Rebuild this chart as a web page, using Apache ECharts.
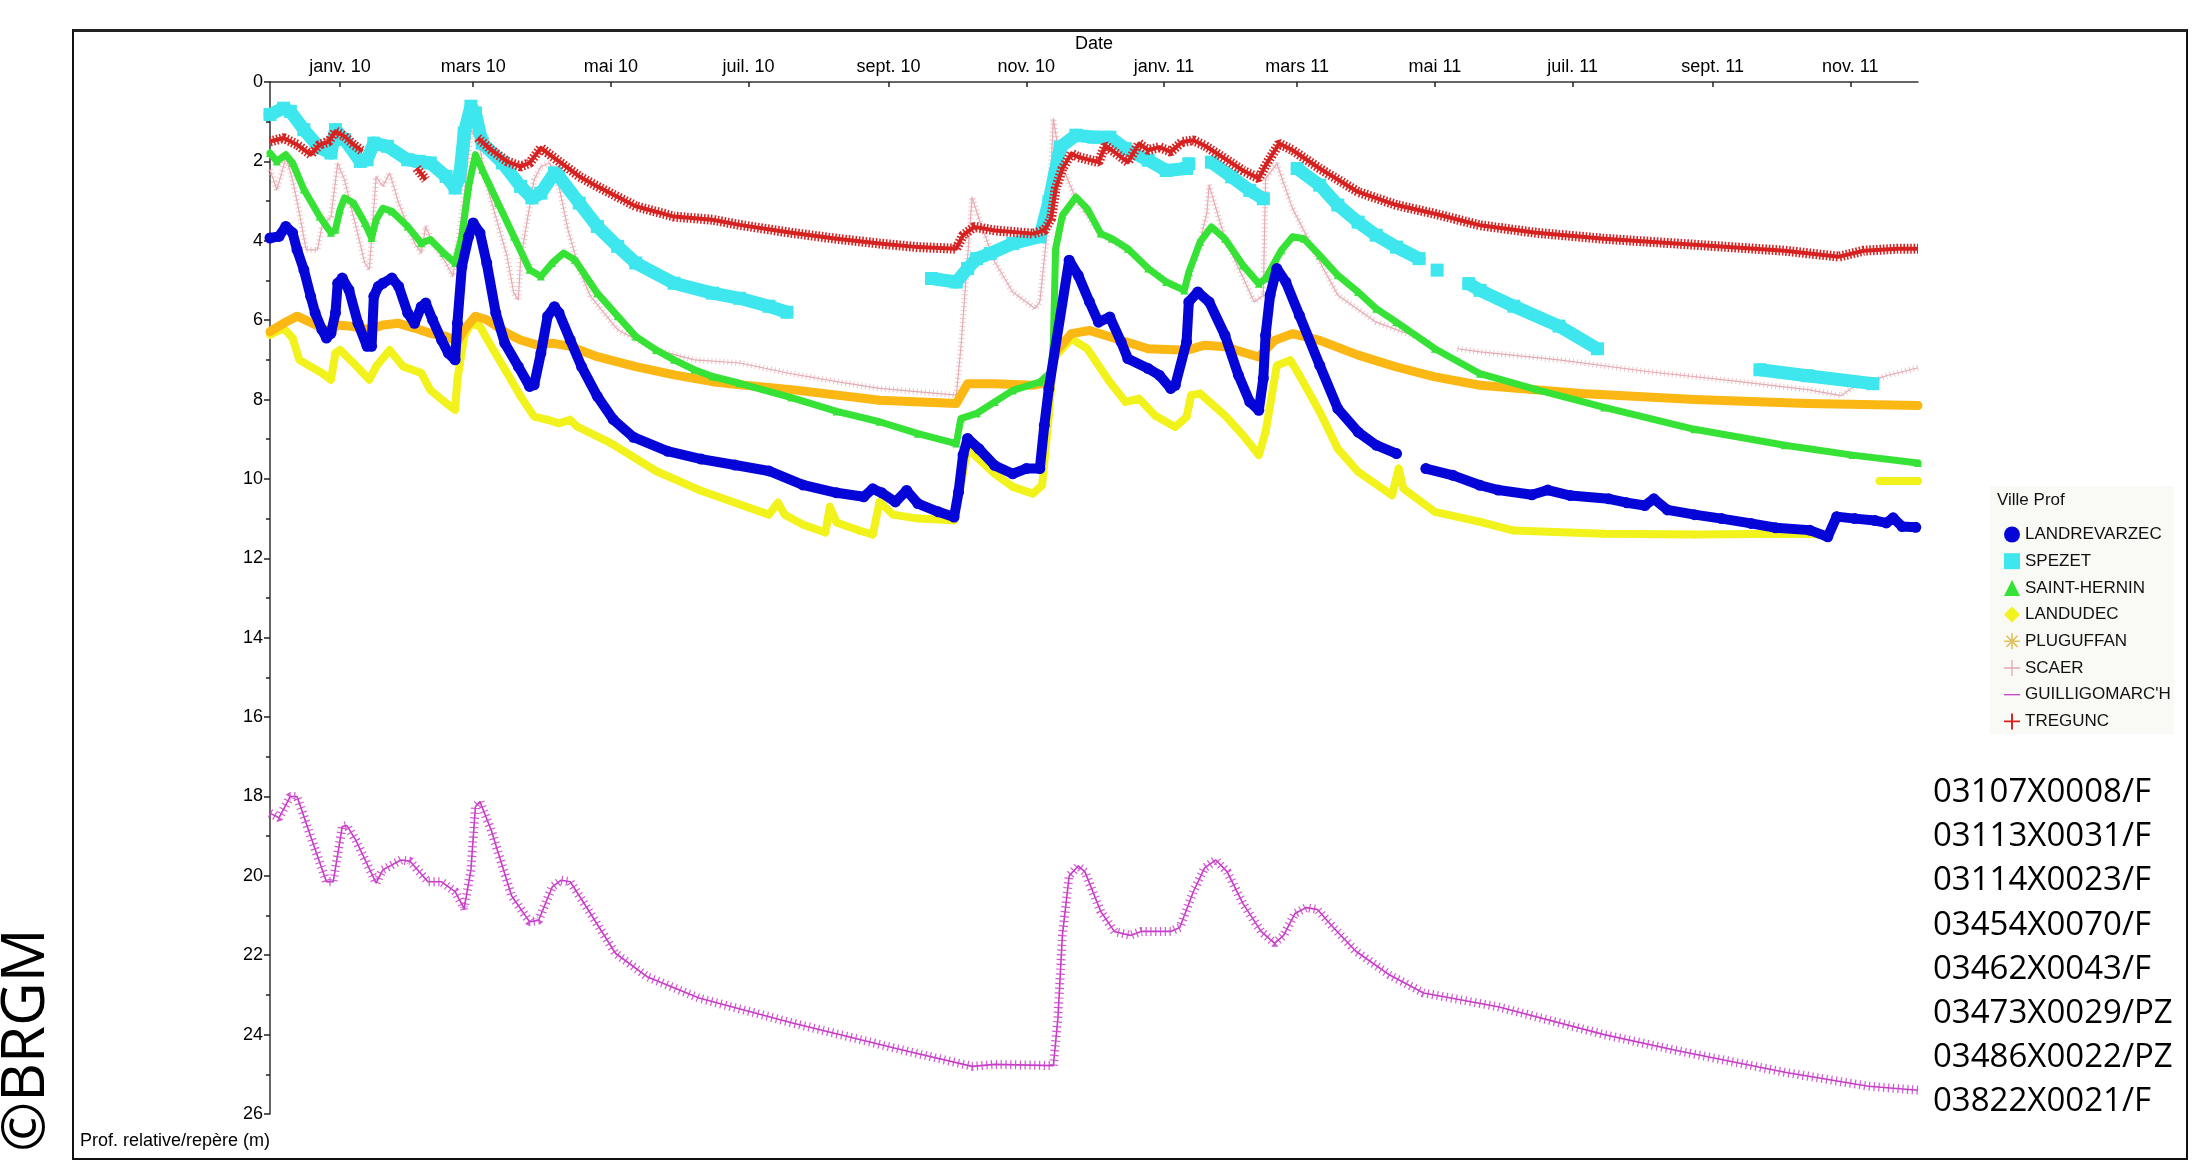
<!DOCTYPE html>
<html><head><meta charset="utf-8">
<script src="https://cdn.jsdelivr.net/npm/echarts@6/dist/echarts.min.js"></script>
<style>html,body{margin:0;padding:0;background:#fff;}#c{width:2197px;height:1162px;}</style>
</head><body><div id="c"></div>
<script>
// ---- axis data ----
const baseDate = '2010-01-01';      // day 0 of the series below
const axisStart = '2009-12-01';
const axisEnd = '2011-12-01';
const tickDates = ['2010-01-01','2010-03-01','2010-05-01','2010-07-01','2010-09-01','2010-11-01',
                   '2011-01-01','2011-03-01','2011-05-01','2011-07-01','2011-09-01','2011-11-01'];
const tickLabels = ['janv. 10','mars 10','mai 10','juil. 10','sept. 10','nov. 10',
                    'janv. 11','mars 11','mai 11','juil. 11','sept. 11','nov. 11'];
const depthMin = 0, depthMax = 26, depthStep = 2;
const seriesNames = ['LANDREVARZEC','SPEZET','SAINT-HERNIN','LANDUDEC','PLUGUFFAN','SCAER',"GUILLIGOMARC'H",'TREGUNC'];
const stationCodes = ['03107X0008/F','03113X0031/F','03114X0023/F','03454X0070/F','03462X0043/F','03473X0029/PZ','03486X0022/PZ','03822X0021/F'];

// ---- series: [days since baseDate, depth (m)]; null = no measurement ----
const landrevarzec = [[-31,3.93],[-27,3.89],[-24,3.64],[-21,3.8],[-19,4.23],[-16,4.73],[-13,5.4],[-11,5.82],[-8,6.24],[-6,6.45],[-4,6.33],[-2,5.82],[-1,5.07],[1,4.94],[4,5.24],[8,6.08],[12,6.66],[14,6.66],[15,5.4],[17,5.15],[19,5.07],[23,4.94],[26,5.15],[30,5.82],[33,6.08],[36,5.66],[38,5.57],[41,5.99],[45,6.5],[48,6.83],[51,7.0],[52,6.08],[54,4.65],[57,3.89],[59,3.55],[62,3.8],[65,4.56],[69,5.82],[73,6.58],[79,7.17],[84,7.67],[86,7.63],[89,6.83],[92,5.9],[95,5.66],[97,5.82],[102,6.5],[107,7.17],[114,7.92],[121,8.5],[130,8.95],[145,9.3],[160,9.5],[175,9.65],[190,9.8],[205,10.15],[220,10.35],[232,10.45],[236,10.25],[240,10.35],[246,10.58],[251,10.29],[256,10.62],[265,10.83],[272,10.96],[274,10.33],[276,9.4],[278,8.98],[283,9.24],[290,9.66],[298,9.87],[304,9.74],[310,9.74],[312,8.65],[314,7.72],[323,4.49],[327,4.87],[332,5.54],[336,6.05],[341,5.92],[346,6.55],[349,6.97],[358,7.22],[363,7.39],[368,7.72],[370,7.64],[375,6.55],[376,5.54],[380,5.29],[385,5.54],[392,6.38],[398,7.39],[403,8.06],[407,8.27],[409,7.47],[410,6.38],[412,5.37],[415,4.7],[419,5.04],[425,5.88],[434,7.14],[442,8.23],[451,8.82],[459,9.15],[468,9.36],[472,null],[481,9.74],[493,9.91],[505,10.16],[513,10.28],[528,10.4],[535,10.28],[545,10.42],[562,10.5],[570,10.6],[578,10.67],[582,10.5],[588,10.78],[600,10.9],[612,11.0],[625,11.12],[636,11.23],[651,11.29],[659,11.46],[663,10.95],[671,11.0],[680,11.05],[685,11.11],[688,10.98],[692,11.2],[698,11.22]];
const spezet = [[-31,0.82],[-25,0.66],[-22,0.74],[-16,1.2],[-9,1.66],[-4,1.79],[-2,1.2],[2,1.45],[9,2.0],[12,1.96],[15,1.54],[21,1.62],[30,1.96],[35,2.0],[40,2.04],[47,2.38],[51,2.67],[53,2.38],[55,1.29],[58,0.61],[60,0.78],[63,1.54],[72,2.04],[80,2.63],[85,2.92],[89,2.8],[95,2.29],[97,2.38],[106,3.05],[114,3.64],[123,4.14],[131,4.56],[148,5.07],[165,5.32],[177,5.45],[190,5.65],[198,5.8],[200,null],[262,4.95],[273,5.04],[278,4.7],[282,4.45],[288,4.32],[298,4.07],[310,3.9],[314,3.02],[319,1.64],[326,1.34],[334,1.39],[341,1.39],[348,1.68],[358,1.97],[366,2.23],[375,2.18],[376,2.06],[380,null],[386,2.02],[395,2.39],[403,2.73],[409,2.94],[415,null],[424,2.18],[434,2.6],[442,3.1],[451,3.53],[459,3.86],[468,4.16],[478,4.45],[482,null],[486,4.74],[490,null],[500,5.08],[505,5.25],[520,5.65],[540,6.15],[557,6.72],[560,null],[629,7.25],[650,7.4],[679,7.6]];
const saintHernin = [[-31,1.79],[-28,2.0],[-24,1.83],[-21,2.04],[-16,2.71],[-9,3.39],[-4,3.8],[-2,3.72],[0,3.22],[2,2.92],[6,3.05],[11,3.55],[14,3.93],[16,3.47],[19,3.18],[23,3.26],[30,3.64],[36,4.06],[40,3.97],[46,4.31],[51,4.56],[54,3.89],[57,2.63],[60,1.83],[63,2.21],[70,3.05],[77,3.89],[84,4.73],[89,4.9],[94,4.56],[99,4.31],[104,4.48],[114,5.32],[123,5.9],[131,6.41],[140,6.75],[148,7.0],[157,7.25],[165,7.42],[177,7.59],[200,7.95],[220,8.3],[239,8.56],[256,8.86],[273,9.11],[275,8.48],[282,8.35],[290,8.06],[298,7.77],[310,7.56],[315,7.3],[316,6.55],[317,4.2],[320,3.36],[326,2.9],[331,3.19],[337,3.82],[342,3.95],[349,4.2],[358,4.7],[366,5.04],[374,5.25],[376,4.79],[381,4.03],[386,3.65],[392,3.95],[400,4.62],[407,5.08],[410,4.95],[417,4.24],[422,3.9],[427,3.95],[434,4.37],[442,4.87],[451,5.29],[459,5.71],[468,6.05],[485,6.72],[505,7.35],[530,7.75],[560,8.2],[600,8.75],[640,9.15],[670,9.4],[699,9.6]];
const landudec = [[-31,6.37],[-25,6.2],[-21,6.45],[-18,7.0],[-13,7.17],[-8,7.33],[-4,7.5],[-2,6.83],[0,6.75],[6,7.08],[13,7.5],[16,7.17],[19,6.96],[22,6.75],[28,7.17],[36,7.33],[40,7.76],[47,8.09],[51,8.26],[52,7.5],[55,6.41],[58,6.08],[62,6.16],[67,6.66],[74,7.33],[80,7.92],[86,8.43],[92,8.51],[97,8.6],[102,8.51],[105,8.68],[120,9.1],[140,9.8],[160,10.3],[180,10.7],[190,10.9],[194,10.6],[197,10.9],[205,11.15],[215,11.35],[217,10.7],[220,11.1],[230,11.3],[236,11.4],[239,10.58],[245,10.9],[256,11.0],[272,11.04],[278,9.24],[290,9.87],[298,10.2],[307,10.37],[311,10.16],[314,8.4],[316,6.97],[324,6.47],[331,6.72],[341,7.56],[348,8.06],[354,7.98],[361,8.4],[370,8.69],[375,8.44],[377,7.89],[381,7.85],[392,8.4],[400,8.9],[407,9.4],[410,8.82],[415,7.14],[421,7.01],[425,7.39],[434,8.31],[442,9.24],[451,9.82],[466,10.41],[469,9.74],[471,10.24],[485,10.83],[505,11.08],[520,11.3],[560,11.38],[600,11.4],[640,11.38],[660,11.4],[662,null],[682,10.05],[699,10.05]];
const pluguffan = [[-31,6.29],[-25,6.08],[-19,5.9],[-14,6.03],[-8,6.2],[-4,6.29],[-1,6.12],[6,6.16],[13,6.24],[19,6.12],[26,6.08],[33,6.2],[40,6.33],[47,6.41],[52,6.54],[55,6.24],[60,5.9],[65,5.99],[74,6.33],[80,6.5],[87,6.62],[94,6.58],[102,6.66],[114,6.92],[131,7.17],[148,7.38],[165,7.55],[177,7.63],[200,7.75],[239,8.02],[273,8.1],[278,7.6],[290,7.6],[307,7.64],[314,7.56],[317,6.8],[324,6.34],[332,6.26],[341,6.42],[358,6.72],[375,6.76],[383,6.63],[392,6.67],[407,6.93],[414,6.51],[422,6.34],[434,6.51],[451,6.88],[468,7.18],[485,7.43],[505,7.64],[550,7.85],[600,8.0],[650,8.1],[699,8.15]];
const scaer = [[-31,2.21],[-28,2.71],[-25,2.13],[-24,1.87],[-21,2.46],[-18,3.3],[-15,4.23],[-10,4.23],[-8,3.64],[-4,3.39],[-1,2.04],[2,2.46],[6,3.39],[11,4.56],[13,4.73],[16,2.38],[19,2.63],[22,2.29],[26,3.05],[33,4.06],[36,4.31],[38,3.64],[41,4.06],[47,4.56],[50,4.9],[52,4.14],[55,2.88],[58,1.2],[62,1.62],[64,2.38],[69,3.39],[74,4.39],[77,5.32],[79,5.49],[80,4.48],[86,2.46],[89,2.13],[93,2.04],[97,2.63],[101,3.72],[106,4.73],[111,5.4],[123,6.24],[140,6.75],[157,7.0],[177,7.08],[200,7.35],[220,7.55],[239,7.72],[273,7.89],[275,6.72],[280,2.9],[283,3.44],[290,4.53],[298,5.29],[308,5.71],[310,5.54],[314,3.36],[316,0.92],[319,2.0],[326,2.95],[337,3.85],[349,4.25],[366,5.0],[374,5.2],[377,4.8],[381,4.0],[384,3.3],[385,2.6],[392,3.95],[405,5.54],[409,5.37],[410,2.43],[415,2.06],[422,3.19],[434,4.53],[442,5.37],[459,6.05],[483,6.55],[488,null],[495,6.72],[505,6.8],[540,7.0],[580,7.3],[620,7.55],[650,7.75],[665,7.9],[670,7.7],[685,7.4],[699,7.2]];
const guilligomarch = [[-31,18.42],[-27,18.54],[-22,18.0],[-19,18.0],[-13,19.0],[-6,20.15],[-3,20.15],[1,18.76],[3,18.73],[7,19.1],[16,20.18],[19,19.85],[27,19.6],[31,19.63],[39,20.15],[45,20.15],[51,20.4],[55,20.82],[58,19.85],[60,18.26],[62,18.13],[67,18.85],[76,20.5],[84,21.16],[88,21.12],[94,20.28],[98,20.11],[102,20.15],[110,20.86],[122,21.95],[136,22.54],[159,23.08],[200,23.7],[250,24.4],[280,24.8],[290,24.75],[316,24.78],[318,23.6],[320,21.5],[323,20.0],[327,19.75],[330,19.9],[337,20.9],[343,21.4],[350,21.5],[355,21.4],[368,21.4],[372,21.3],[378,20.4],[383,19.8],[388,19.6],[393,19.9],[400,20.7],[408,21.4],[414,21.7],[418,21.5],[423,20.95],[428,20.8],[433,20.85],[440,21.3],[450,21.9],[465,22.5],[480,22.95],[513,23.3],[560,24.0],[592,24.4],[640,24.95],[677,25.3],[699,25.4]];
const tregunc = [[-31,1.5],[-25,1.41],[-19,1.58],[-13,1.83],[-9,1.58],[-5,1.5],[-2,1.24],[2,1.37],[6,1.58],[10,1.75],[12,null],[34,2.17],[38,2.46],[40,null],[61,1.41],[67,1.71],[74,2.0],[80,2.13],[84,2.04],[89,1.66],[92,1.79],[97,2.0],[106,2.38],[114,2.63],[131,3.13],[148,3.39],[165,3.47],[177,3.6],[200,3.8],[220,3.95],[239,4.07],[256,4.16],[273,4.2],[276,3.86],[281,3.65],[290,3.74],[307,3.82],[312,3.74],[315,3.44],[317,2.69],[320,2.18],[324,1.8],[327,1.89],[336,2.02],[339,1.6],[342,1.72],[349,2.02],[354,1.55],[358,1.72],[363,1.64],[368,1.76],[373,1.51],[378,1.47],[383,1.6],[392,1.93],[400,2.23],[407,2.43],[410,2.1],[416,1.55],[422,1.72],[434,2.18],[451,2.77],[468,3.1],[485,3.32],[505,3.61],[530,3.8],[560,3.95],[600,4.1],[640,4.25],[664,4.4],[675,4.25],[690,4.2],[699,4.2]];

// ---- build ----
const DAY = 86400000;
const t0 = Date.parse(baseDate);
const toPts = arr => arr.map(p => [t0 + p[0] * DAY, p[1] === null ? '-' : p[1]]);
const tickValues = tickDates.map(d => Date.parse(d));
const labelFor = v => { for (let i = 0; i < tickValues.length; i++) if (Math.abs(v - tickValues[i]) < DAY) return tickLabels[i]; return ''; };

const FONT = 'Liberation Sans';
function band(name, data, color, width, symbol, symSize, z) {
  return { name, type: 'line', data: toPts(data), z, showSymbol: true, symbol, symbolSize: symSize,
    itemStyle: { color }, lineStyle: { color, width, cap: 'round', join: 'round' },
    emphasis: { disabled: true }, animation: false, connectNulls: false };
}
function thin(name, data, color, width, z) {
  return { name, type: 'line', data: toPts(data), z, showSymbol: false,
    itemStyle: { color }, lineStyle: { color, width, join: 'round' },
    emphasis: { disabled: true }, animation: false, connectNulls: false };
}
function marks(name, data, color, width, dash, z, opacity) {
  return { name, type: 'line', data: toPts(data), z, showSymbol: false, silent: true,
    itemStyle: { color }, lineStyle: { color, width, type: dash, cap: 'butt', opacity },
    emphasis: { disabled: true }, animation: false, connectNulls: false };
}

const plusThin = 'path://M0,4.6H10V5.4H0Z M4.6,0H5.4V10H4.6Z';
const plusRed = 'path://M0,4.4H10V5.6H0Z M4.4,0H5.6V10H4.4Z';
const dashIcon = 'path://M0,0H20V1.6H0Z';
const asterisk = 'path://M0,4.5H10V5.5H0Z M4.5,0H5.5V10H4.5Z M1.2,1.9L1.9,1.2L8.8,8.1L8.1,8.8Z M8.1,1.2L8.8,1.9L1.9,8.8L1.2,8.1Z';

const codeTexts = stationCodes.map((c, i) => ({
  type: 'text', left: 1933, top: 797 + i * 44.2 - 21,
  style: { text: c, font: '33px "Open Sans"', fill: '#000' }
}));

const chart = echarts.init(document.getElementById('c'), null, { renderer: 'canvas' });
chart.setOption({
  backgroundColor: '#fff',
  animation: false,
  textStyle: { fontFamily: FONT },
  grid: { left: 270, right: 279, top: 82, bottom: 48, containLabel: false },
  xAxis: {
    type: 'value', position: 'top',
    min: Date.parse(axisStart), max: Date.parse(axisEnd),
    name: 'Date', nameLocation: 'middle', nameGap: 29,
    nameTextStyle: { fontSize: 18, color: '#000', fontFamily: FONT },
    axisLine: { show: true, onZero: false, lineStyle: { color: '#333', width: 1.5 } },
    axisTick: { show: true, inside: true, length: 5, customValues: tickValues, lineStyle: { color: '#222', width: 1.5 } },
    axisLabel: { show: true, customValues: tickValues, formatter: v => labelFor(v), fontSize: 18, color: '#000', margin: 6, fontFamily: FONT },
    splitLine: { show: false }, minorTick: { show: false }
  },
  yAxis: {
    type: 'value', inverse: true, min: depthMin, max: depthMax, interval: depthStep,
    name: 'Prof. relative/repère (m)', nameLocation: 'end', nameGap: 27,
    nameTextStyle: { align: 'right', verticalAlign: 'middle', fontSize: 18, color: '#000', fontFamily: FONT },
    axisLine: { show: true, onZero: false, lineStyle: { color: '#333', width: 1.5 } },
    axisTick: { show: true, length: 6, lineStyle: { color: '#222', width: 1.5 } },
    minorTick: { show: true, splitNumber: 2, length: 4, lineStyle: { color: '#222', width: 1.5 } },
    axisLabel: { fontSize: 18, color: '#000', margin: 7, fontFamily: FONT },
    splitLine: { show: false }
  },
  legend: {
    orient: 'vertical', left: 1999, top: 521, itemWidth: 16, itemHeight: 16, itemGap: 9.7,
    selectedMode: false,
    textStyle: { fontSize: 17, color: '#111', fontFamily: FONT },
    data: [
      { name: 'LANDREVARZEC', icon: 'circle' },
      { name: 'SPEZET', icon: 'rect' },
      { name: 'SAINT-HERNIN', icon: 'triangle' },
      { name: 'LANDUDEC', icon: 'diamond' },
      { name: 'PLUGUFFAN', icon: asterisk, itemStyle: { color: '#e2c15a' } },
      { name: 'SCAER', icon: plusThin },
      { name: "GUILLIGOMARC'H", icon: dashIcon },
      { name: 'TREGUNC', icon: plusRed }
    ]
  },
  graphic: [
    { type: 'rect', shape: { x: 1990, y: 486, width: 184, height: 248 }, style: { fill: '#f9f9f5' }, z: -1 },
    { type: 'text', left: 1997, top: 492, style: { text: 'Ville Prof', font: '17px "Liberation Sans"', fill: '#111' } },
    { type: 'rect', shape: { x: 73, y: 30, width: 2114, height: 1129 }, style: { fill: 'none', stroke: '#111', lineWidth: 2 } },
    { type: 'line', shape: { x1: 73, y1: 30.5, x2: 2187, y2: 30.5 }, style: { stroke: '#222', lineWidth: 3 } },
    { type: 'text', x: 27, y: 1040, rotation: Math.PI / 2,
      style: { text: '©BRGM', font: '60px "Open Sans"', fill: '#000', align: 'center', verticalAlign: 'middle' } },
    ...codeTexts
  ],
  series: [
    thin('SCAER', scaer, '#e3a9b0', 1.2, 2),
    marks('scaer-marks', scaer, '#e8b4ba', 6, [1, 3], 2, 0.8),
    thin("GUILLIGOMARC'H", guilligomarch, '#c63cc6', 1.6, 3),
    marks('guilligomarch-marks', guilligomarch, '#cc44cc', 9, [1.2, 3.6], 3, 0.9),
    band('LANDUDEC', landudec, '#f2f21c', 8, 'diamond', 9, 4),
    band('PLUGUFFAN', pluguffan, '#fbb714', 9, 'circle', 8, 5),
    band('SAINT-HERNIN', saintHernin, '#36e236', 7, 'triangle', 8, 6),
    band('SPEZET', spezet, '#3ee6ee', 13, 'rect', 13, 7),
    thin('TREGUNC', tregunc, '#d8201e', 4, 8),
    marks('tregunc-marks', tregunc, '#d42424', 10, [1.6, 1.8], 8, 1),
    band('LANDREVARZEC', landrevarzec, '#0505d8', 10, 'circle', 11, 9)
  ]
});
</script></body></html>
